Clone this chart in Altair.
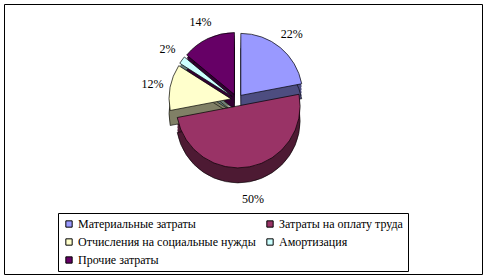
import altair as alt
import pandas as pd
import math

categories = ["Материальные затраты", "Затраты на оплату труда",
              "Отчисления на социальные нужды", "Амортизация", "Прочие затраты"]
values = [22, 50, 12, 2, 14]
labels = ["22%", "50%", "12%", "2%", "14%"]

top_colors = ["#9999FF", "#993366", "#FFFFCC", "#CCFFFF", "#660066"]
side_colors = ["#4D4D80", "#4D1A33", "#808066", "#668080", "#330033"]

# legend is filled column by column: order so rows read as in the reference
legend_order = [0, 2, 4, 1, 3]
legend_domain = [categories[i] for i in legend_order]
legend_range = [top_colors[i] for i in legend_order]

total = sum(values)
rows = []
cum = 0
for i, (c, v, l) in enumerate(zip(categories, values, labels)):
    start = cum / total
    cum += v
    end = cum / total
    rows.append({"cat": c, "value": v, "label": l, "idx": i,
                 "start": start, "end": end,
                 "side": side_colors[i]})
df = pd.DataFrame(rows)

EXPLODE = 0.06   # explosion distance (in units of 100 px)
DEPTH = 0.15     # pseudo-3D thickness
R = 62
LBL = 0.80
FONT = "'Liberation Serif', 'Times New Roman', serif"

base = alt.Chart(df).transform_calculate(
    mid="(datum.start + datum.end) * PI",
    ex=f"{EXPLODE} * sin((datum.start + datum.end) * PI)",
    ey=f"{EXPLODE} * cos((datum.start + datum.end) * PI)",
)

xs = alt.Scale(domain=[-1, 1], range=[133, 333])
ys = alt.Scale(domain=[-1, 1], range=[196, -4])
ts = alt.Scale(domain=[0, 1], range=[0, 2 * math.pi])

side_layers = []
for k in range(5):
    d = DEPTH * (k + 1) / 5
    side_layers.append(
        base.transform_calculate(ey2=f"datum.ey - {d}").mark_arc(
            radius=R, stroke="black", strokeWidth=0.6 if k == 4 else 0
        ).encode(
            x=alt.X("ex:Q", scale=xs, axis=None),
            y=alt.Y("ey2:Q", scale=ys, axis=None),
            theta=alt.Theta("start:Q", scale=ts),
            theta2="end:Q",
            color=alt.Color("side:N", scale=None),
        )
    )

top = base.mark_arc(radius=R, stroke="black", strokeWidth=0.7).encode(
    x=alt.X("ex:Q", scale=xs, axis=None),
    y=alt.Y("ey:Q", scale=ys, axis=None),
    theta=alt.Theta("start:Q", scale=ts),
    theta2="end:Q",
    color=alt.Color("cat:N", scale=alt.Scale(domain=legend_domain, range=legend_range),
                    legend=alt.Legend(title=None, orient="none", legendX=54, legendY=209,
                                      columns=2, symbolType="square", symbolSize=40,
                                      symbolStrokeColor="black", symbolStrokeWidth=1,
                                      labelFont=FONT, labelFontSize=12,
                                      labelColor="black", labelLimit=400,
                                      strokeColor="black", fillColor="white",
                                      padding=5, rowPadding=6, columnPadding=8,
                                      labelOffset=3)),
)

text = base.transform_calculate(
    lx=f"{LBL} * sin(datum.mid) + datum.ex",
    ly=f"{LBL} * cos(datum.mid) + datum.ey - (cos(datum.mid) < 0 ? {DEPTH} : 0)",
).mark_text(font=FONT, fontSize=12, color="black").encode(
    x=alt.X("lx:Q", scale=xs, axis=None),
    y=alt.Y("ly:Q", scale=ys, axis=None),
    text="label:N",
)

chart = alt.layer(*side_layers, top, text).properties(
    width=478, height=270,
    padding={"left": 4, "top": 4, "right": 6, "bottom": 5},
    autosize=alt.AutoSizeParams(type="none"),
    background="white",
).configure(font=FONT).configure_view(stroke="black", strokeWidth=1).configure_legend(
    labelFont=FONT, labelFontSize=12, labelColor="black"
)

chart.save("out.html", embed_options={"renderer": "svg", "actions": False})
